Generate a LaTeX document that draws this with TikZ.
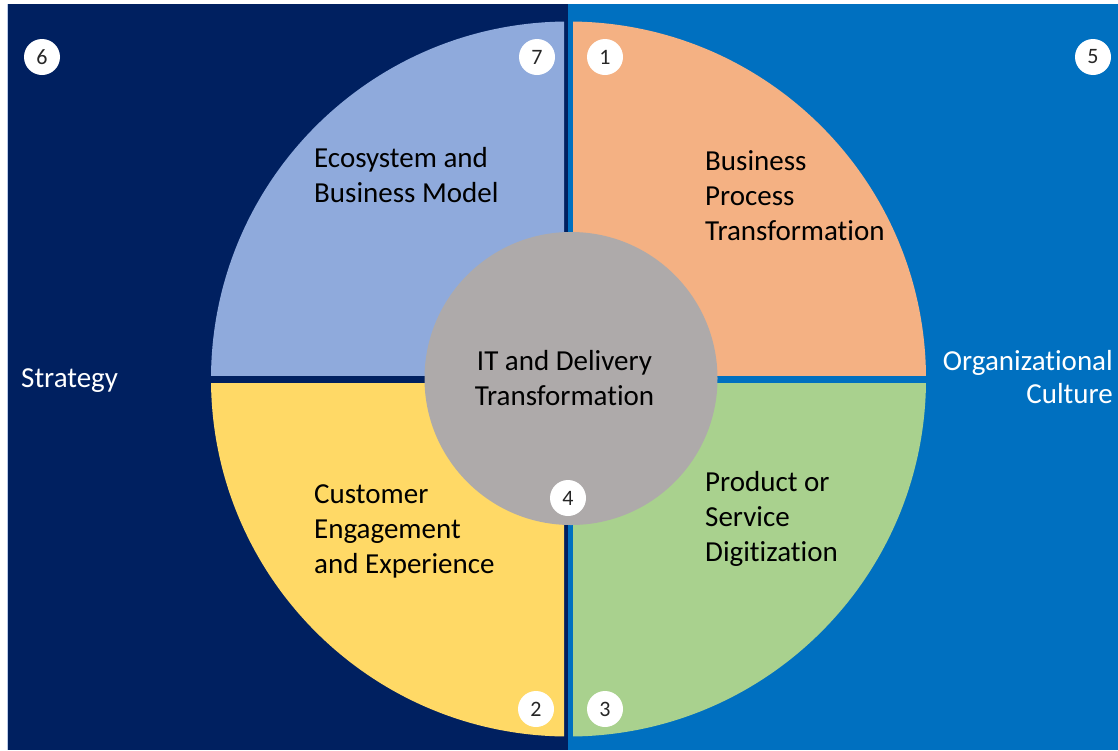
\documentclass[tikz,border=0pt]{standalone}
\usepackage{fontspec}
\setmainfont{Carlito}[Ligatures=NoCommon]
\definecolor{navy}{HTML}{002060}
\definecolor{myblue}{HTML}{0070C0}
\definecolor{qblue}{HTML}{8FAADC}
\definecolor{qorange}{HTML}{F4B183}
\definecolor{qyellow}{HTML}{FFD966}
\definecolor{qgreen}{HTML}{A9D18E}
\definecolor{qgrey}{HTML}{AEAAAA}
\definecolor{numtext}{HTML}{262626}
\tikzset{
  badge/.style={circle, fill=white, minimum size=36, inner sep=0, text=numtext, font=\fontsize{22}{26}\selectfont},
  quadtext/.style={anchor=base west, align=left, inner sep=0, text=black, font=\fontsize{29}{35}\selectfont},
  sidetext/.style={inner sep=0, text=white, font=\fontsize{29}{34}\selectfont},
}
\begin{document}
\begin{tikzpicture}[x=1pt,y=-1pt]
\useasboundingbox (0,0) rectangle (1118,750);
\fill[white] (0,0) rectangle (1118,750);
\fill[navy] (7,4) rectangle (567.5,750);
\fill[myblue] (567.5,4) rectangle (1118,750);
\draw[qblue!60, line width=1] (7.5,4) -- (7.5,750);
\coordinate (c) at (568.5,379);
\begin{scope}
  \clip (0,0) rectangle (564,375);
  \fill[qblue] (c) circle[radius=357.5];
\end{scope}
\begin{scope}
  \clip (573,0) rectangle (1118,375);
  \fill[qorange] (c) circle[radius=357.5];
\end{scope}
\begin{scope}
  \clip (0,383) rectangle (564,750);
  \fill[qyellow] (c) circle[radius=357.5];
\end{scope}
\begin{scope}
  \clip (573,383) rectangle (1118,750);
  \fill[qgreen] (c) circle[radius=357.5];
\end{scope}
\node[circle, fill=qgrey, minimum size=293, inner sep=0] (hub) at (571,378.5) {};

% base anchor = baseline of the last line
\node[quadtext] (eco) at (314,202) {Ecosystem and\\Business Model};
\node[quadtext] (bpt) at (705,240) {Business\\Process\\Transformation};
\node[quadtext] (cee) at (314,573) {Customer\\Engagement\\and Experience};
\node[quadtext] (psd) at (705,561) {Product or\\Service\\Digitization};
\node[quadtext, anchor=base, align=center] (itd) at (564.5,405) {IT and Delivery\\Transformation};

\node[sidetext, anchor=base west] (strat) at (21,387) {Strategy};
\node[sidetext, anchor=base east, align=right, font=\fontsize{29}{33}\selectfont] (org) at (1113,403) {Organizational\\Culture};

\node[badge] (b6) at (42,57) {6};
\node[badge] (b7) at (537,57) {7};
\node[badge] (b1) at (605,57) {1};
\node[badge] (b5) at (1093,57) {5};
\node[badge] (b4) at (568,498) {4};
\node[badge] (b2) at (536,709) {2};
\node[badge] (b3) at (605,709) {3};
\end{tikzpicture}
\end{document}
